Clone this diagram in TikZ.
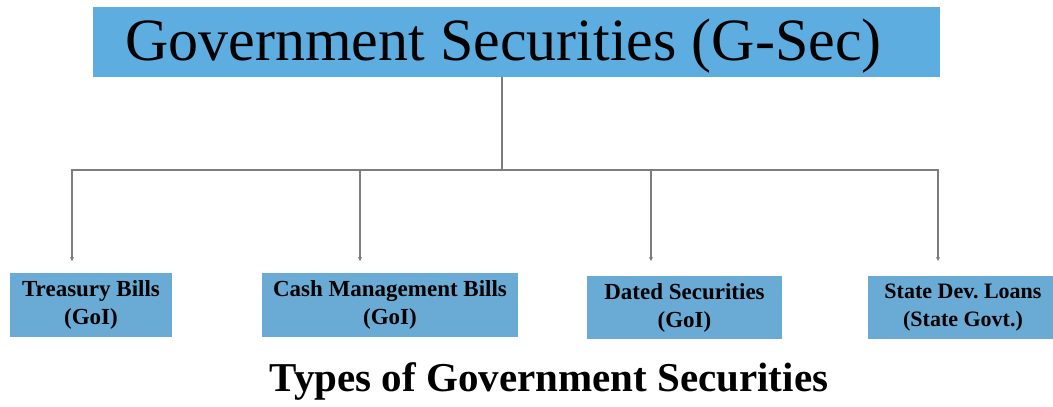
\documentclass[tikz,border=0pt]{standalone}
\usepackage{fontspec}
\setmainfont{Liberation Serif}
\usetikzlibrary{arrows.meta}
\definecolor{topblue}{RGB}{93,173,224}
\definecolor{boxblue}{RGB}{106,171,213}
\definecolor{linegray}{RGB}{125,125,125}
\tikzset{
  kindbox/.style={fill=boxblue,align=center,inner sep=0pt,
    font=\fontsize{23}{28}\selectfont\bfseries},
  branch/.style={draw=linegray,line width=1.6pt,-{Stealth[length=4pt,width=4pt]}}
}
\begin{document}
\begin{tikzpicture}[x=1pt,y=-1pt]
    \useasboundingbox (0,0) rectangle (1053,407);
    \node[fill=topblue,minimum width=847pt,minimum height=70pt,inner sep=0pt,
      text height=44pt,text depth=8pt,
      font=\fontsize{60}{64}\selectfont] (gsec) at (516.5,42)
      {Government Securities (G-Sec)\hspace*{26pt}};
    \node[kindbox,minimum width=162pt,minimum height=64pt] (tbill) at (91,305)
      {Treasury Bills\\(GoI)};
    \node[kindbox,minimum width=256pt,minimum height=64pt] (cmb) at (390,305)
      {Cash Management Bills\\(GoI)};
    \node[kindbox,minimum width=195pt,minimum height=63pt] (dated) at (684.5,307.5)
      {Dated Securities\\(GoI)};
    \node[kindbox,minimum width=190pt,minimum height=63pt,
      font=\fontsize{22}{28}\selectfont\bfseries] (sdl) at (963,307.5)
      {State Dev.\ Loans\\(State Govt.)};
    \node[font=\fontsize{41}{45}\selectfont\bfseries] (caption) at (549,381)
      {Types of Government Securities};
    % bus line and the four drops
    \coordinate (bus) at (502,170);
    \coordinate (tip1) at (72,261);
    \coordinate (tip2) at (360,261);
    \coordinate (tip3) at (651,261);
    \coordinate (tip4) at (938,261);
    \draw[draw=linegray,line width=1.6pt] (gsec.south -| bus) -- (bus);
    \foreach \t in {tip1,tip2,tip3,tip4}
        \draw[branch] (bus) -| (\t);
\end{tikzpicture}
\end{document}
